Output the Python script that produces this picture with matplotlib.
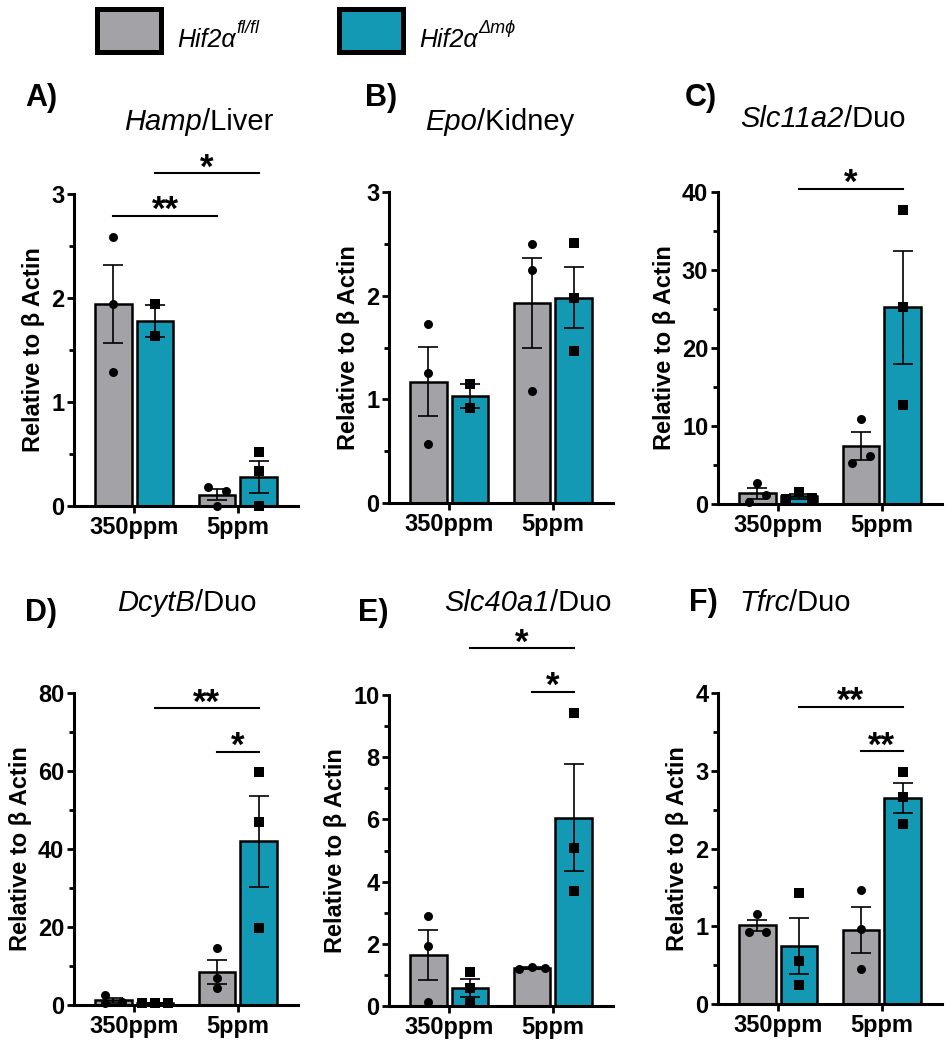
import numpy as np
import matplotlib
matplotlib.use('Agg')
import matplotlib.pyplot as plt
from matplotlib.patches import Rectangle
from matplotlib.ticker import MultipleLocator

plt.rcParams['font.family'] = ['Liberation Sans', 'DejaVu Sans']
plt.rcParams['mathtext.fontset'] = 'custom'
plt.rcParams['mathtext.it'] = 'Liberation Sans:italic'
plt.rcParams['mathtext.rm'] = 'Liberation Sans'

# Data: bar order = Hif2a fl/fl 350ppm, Hif2a dmphi 350ppm, fl/fl 5ppm, dmphi 5ppm
doses = ['350ppm', '5ppm']

hamp_pts = [[2.59, 1.94, 1.29], [1.94, 1.63], [0.186, 0.148, 0.0], [0.52, 0.34, 0.0]]
hamp_mean = [1.94, 1.78, 0.11, 0.28]
hamp_sem = [0.375, 0.155, 0.057, 0.155]

epo_pts = [[1.73, 1.25, 0.57], [1.15, 0.92], [2.50, 2.25, 1.08], [2.51, 1.98, 1.47]]
epo_mean = [1.17, 1.03, 1.93, 1.98]
epo_sem = [0.335, 0.115, 0.43, 0.295]

slc11_pts = [[2.74, 0.30, 1.16], [1.58, 0.60, 0.73], [10.9, 5.2, 6.16], [37.7, 25.2, 12.7]]
slc11_mean = [1.35, 1.0, 7.4, 25.2]
slc11_sem = [0.75, 0.3, 1.8, 7.25]

dcytb_pts = [[2.6, 0.4, 0.8], [0.4, 0.6, 0.5], [14.5, 6.8, 4.3], [59.7, 46.9, 19.8]]
dcytb_mean = [1.2, 0.5, 8.4, 42.0]
dcytb_sem = [0.7, 0.06, 3.1, 11.7]

slc40_pts = [[2.89, 1.93, 0.14], [1.10, 0.57, 0.09], [1.18, 1.26, 1.21], [9.41, 5.07, 3.70]]
slc40_mean = [1.65, 0.59, 1.22, 6.06]
slc40_sem = [0.80, 0.29, 0.03, 1.72]

tfrc_pts = [[1.16, 0.93, 0.93], [1.43, 0.55, 0.25], [1.46, 0.96, 0.45], [2.99, 2.66, 2.32]]
tfrc_mean = [1.01, 0.74, 0.95, 2.65]
tfrc_sem = [0.07, 0.36, 0.295, 0.19]

# significance: (bar i, bar j, height, label)
hamp_sig = [(0, 2, 2.79, '**'), (1, 3, 3.20, '*')]
slc11_sig = [(1, 3, 40.4, '*')]
dcytb_sig = [(1, 3, 76.1, '**'), (2, 3, 64.9, '*')]
slc40_sig = [(1, 3, 11.5, '*'), (2, 3, 10.1, '*')]
tfrc_sig = [(1, 3, 3.82, '**'), (2, 3, 3.25, '**')]

# titles: italic gene, regular tissue
genes = ['Hamp', 'Epo', 'Slc11a2', 'DcytB', 'Slc40a1', 'Tfrc']
tissues = ['/Liver', '/Kidney', '/Duo', '/Duo', '/Duo', '/Duo']
letters = ['A)', 'B)', 'C)', 'D)', 'E)', 'F)']

GRAY = '#A3A2A7'
TEAL = '#1399B4'
W, H = 952, 1050

fig = plt.figure(figsize=(W / 100, H / 100), dpi=100)
renderer = fig.canvas.get_renderer()


def px_axes(x0, x1, ytop, ybot):
    return fig.add_axes([x0 / W, 1 - ybot / H, (x1 - x0) / W, (ybot - ytop) / H])


def panel(ax, pts, mean, sem, ymax, major, minor, sig, jitter):
    xs = np.array([-0.2, 0.2, 0.8, 1.2])
    cols = [GRAY, TEAL, GRAY, TEAL]
    ax.bar(xs, mean, width=0.35, color=cols, edgecolor='black', linewidth=1.8, zorder=2)
    ax.errorbar(xs, mean, yerr=sem, fmt='none', ecolor='black', elinewidth=1.2,
                capsize=7, capthick=1.2, zorder=3)
    for i, vals in enumerate(pts):
        off = np.array(jitter[i], dtype=float) * 0.085
        ax.scatter(xs[i] + off, vals, marker='o' if i % 2 == 0 else 's', s=42,
                   color='black', zorder=4, clip_on=False, linewidths=0)
    for a, b, y, lab in sig:
        ax.plot([xs[a], xs[b]], [y, y], color='black', lw=1.5, clip_on=False)
        ax.annotate(lab, xy=((xs[a] + xs[b]) / 2, y), xytext=(0, -3),
                    textcoords='offset points', ha='center', va='baseline',
                    fontsize=25, fontweight='bold', annotation_clip=False)
    ax.set_xlim(-0.58, 1.58)
    ax.set_ylim(0, ymax)
    ax.yaxis.set_major_locator(MultipleLocator(major))
    ax.yaxis.set_minor_locator(MultipleLocator(minor))
    ax.set_xticks([0, 1])
    ax.set_xticklabels(doses, fontsize=17, fontweight='bold')
    for t in ax.get_yticklabels():
        t.set_fontsize(17)
        t.set_fontweight('bold')
    ax.tick_params(axis='both', which='major', length=5, width=2, pad=2)
    ax.tick_params(axis='y', which='minor', length=3.5, width=2)
    ax.tick_params(axis='x', which='minor', length=0)
    for s in ['top', 'right']:
        ax.spines[s].set_visible(False)
    for s in ['left', 'bottom']:
        ax.spines[s].set_linewidth(2.2)
        ax.spines[s].set_zorder(5)
    ax.set_ylabel('Relative to β Actin', fontsize=17, fontweight='bold', labelpad=4)


axA = px_axes(74, 298, 194, 506)
panel(axA, hamp_pts, hamp_mean, hamp_sem, 3, 1, 0.5, hamp_sig,
      [[0, 0, 0], [0, 0], [-1, 1, 0], [0, 0, 0]])
axB = px_axes(389, 613, 192, 503)
panel(axB, epo_pts, epo_mean, epo_sem, 3, 1, 0.5, [],
      [[0, 0, 0], [0, 0], [0, 0, 0], [0, 0, 0]])
axC = px_axes(718, 942, 192, 504)
panel(axC, slc11_pts, slc11_mean, slc11_sem, 40, 10, 5, slc11_sig,
      [[0, -1, 1], [0, -1.5, 1.5], [0, -1, 1], [0, 0, 0]])
axD = px_axes(74, 298, 693, 1005)
panel(axD, dcytb_pts, dcytb_mean, dcytb_sem, 80, 20, 10, dcytb_sig,
      [[-1, -1, 1], [-1.5, 0, 1.5], [0, 0, 0], [0, 0, 0]])
axE = px_axes(389, 613, 695, 1006)
panel(axE, slc40_pts, slc40_mean, slc40_sem, 10, 2, 1, slc40_sig,
      [[0, 0, 0], [0, 0, 0], [-1.5, 0, 1.5], [0, 0, 0]])
axF = px_axes(718, 942, 693, 1004)
panel(axF, tfrc_pts, tfrc_mean, tfrc_sem, 4, 1, 0.5, tfrc_sig,
      [[0, -1, 1], [0, 0, 0], [0, 0, 0], [0, 0, 0]])

# panel letters and titles
letter_pos = [(25, 98), (365, 98), (685, 98), (25, 613), (358, 613), (689, 603)]
title_pos = [(199, 122), (500, 122), (823, 119), (187, 603), (528, 603), (795, 603)]
for lab, (x, y) in zip(letters, letter_pos):
    fig.text(x / W, 1 - y / H, lab, fontsize=22, fontweight='bold', ha='left', va='center')
for g, tis, (x, y) in zip(genes, tissues, title_pos):
    t1 = fig.text(0, 1 - y / H, g, fontsize=21, style='italic', ha='left', va='center')
    t2 = fig.text(0, 1 - y / H, tis, fontsize=21, ha='left', va='center')
    w1 = t1.get_window_extent(renderer).width
    w2 = t2.get_window_extent(renderer).width
    x0 = x - (w1 + w2) / 2
    t1.set_x(x0 / W)
    t2.set_x((x0 + w1) / W)

# legend
for x0, col, name, sup in [(94, GRAY, 'Hif2α', 'fl/fl'), (336, TEAL, 'Hif2α', 'Δmϕ')]:
    fig.patches.append(Rectangle(((x0 + 2.5) / W, 1 - 51.5 / H), 64 / W, 42 / H,
                                 transform=fig.transFigure, facecolor=col,
                                 edgecolor='black', linewidth=3.6))
    xt = x0 + 83
    t1 = fig.text(xt / W, 1 - 47 / H, name, fontsize=18, style='italic', va='baseline')
    w1 = t1.get_window_extent(renderer).width
    fig.text((xt + w1 + 1) / W, 1 - 33 / H, sup, fontsize=13, style='italic',
             va='baseline')

fig.savefig('out.png', dpi=100)
